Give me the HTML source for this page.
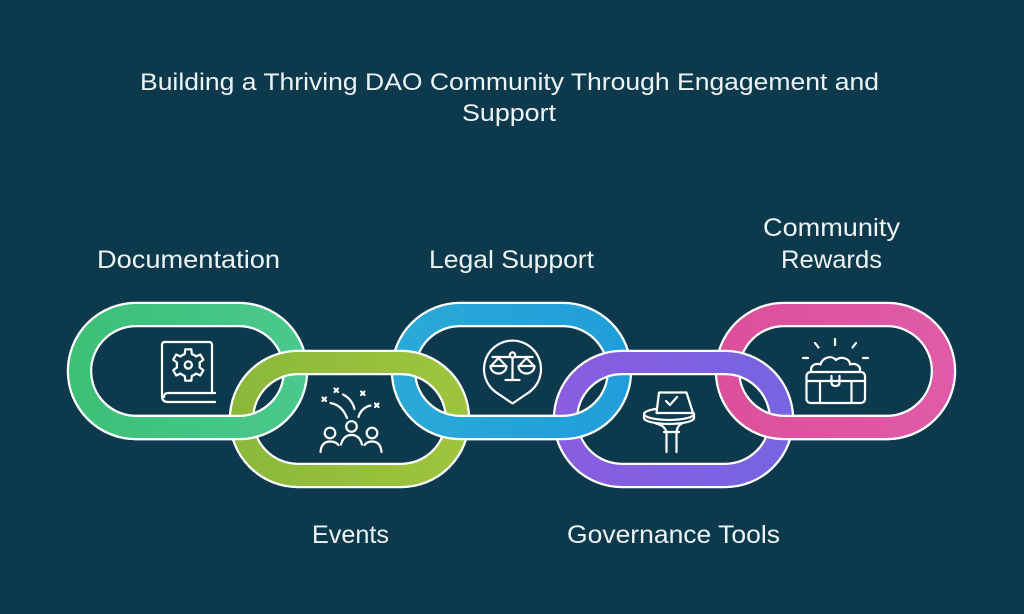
<!DOCTYPE html>
<html><head><meta charset="utf-8"><style>
html,body{margin:0;padding:0;background:#0c3a4c;}
svg{display:block;}
text{font-family:"Liberation Sans",Arial,sans-serif;fill:#eef4f6;}
</style></head><body>
<svg width="1024" height="614" viewBox="0 0 1024 614" xmlns="http://www.w3.org/2000/svg">
<defs>
<linearGradient id="g0" gradientUnits="userSpaceOnUse" x1="67" y1="0" x2="308" y2="0"><stop offset="0" stop-color="#3cbf76"/><stop offset="1" stop-color="#4bc98e"/></linearGradient>
<linearGradient id="g1" gradientUnits="userSpaceOnUse" x1="229" y1="0" x2="470" y2="0"><stop offset="0" stop-color="#8ab83a"/><stop offset="1" stop-color="#9fc53d"/></linearGradient>
<linearGradient id="g2" gradientUnits="userSpaceOnUse" x1="391" y1="0" x2="632" y2="0"><stop offset="0" stop-color="#2ba9d6"/><stop offset="1" stop-color="#1f9edb"/></linearGradient>
<linearGradient id="g3" gradientUnits="userSpaceOnUse" x1="553" y1="0" x2="794" y2="0"><stop offset="0" stop-color="#8a5ce0"/><stop offset="1" stop-color="#7565e0"/></linearGradient>
<linearGradient id="g4" gradientUnits="userSpaceOnUse" x1="715" y1="0" x2="956" y2="0"><stop offset="0" stop-color="#dc4f9b"/><stop offset="1" stop-color="#e05ba9"/></linearGradient>
<clipPath id="low"><rect x="0" y="396" width="1024" height="300"/></clipPath>
</defs>
<rect width="1024" height="614" fill="#0c3a4c"/>

<!-- title -->
<text x="509.5" y="90" font-size="24" text-anchor="middle" textLength="739" lengthAdjust="spacingAndGlyphs">Building a Thriving DAO Community Through Engagement and</text>
<text x="509" y="121" font-size="24" text-anchor="middle" textLength="94" lengthAdjust="spacingAndGlyphs">Support</text>

<!-- labels -->
<text x="97" y="268" font-size="25" textLength="183" lengthAdjust="spacingAndGlyphs">Documentation</text>
<text x="429" y="268" font-size="25" textLength="165" lengthAdjust="spacingAndGlyphs">Legal Support</text>
<text x="763" y="236" font-size="25" textLength="137" lengthAdjust="spacingAndGlyphs">Community</text>
<text x="781" y="268" font-size="25" textLength="101" lengthAdjust="spacingAndGlyphs">Rewards</text>
<text x="312" y="543" font-size="25" textLength="77" lengthAdjust="spacingAndGlyphs">Events</text>
<text x="567" y="543" font-size="25" textLength="213" lengthAdjust="spacingAndGlyphs">Governance Tools</text>

<!-- upper links full -->
<g fill="none">
<rect x="79.5" y="314.5" width="216" height="113" rx="56.5" stroke="#fff" stroke-width="25.5"/>
<rect x="79.5" y="314.5" width="216" height="113" rx="56.5" stroke="url(#g0)" stroke-width="21"/>
<rect x="403.5" y="314.5" width="216" height="113" rx="56.5" stroke="#fff" stroke-width="25.5"/>
<rect x="403.5" y="314.5" width="216" height="113" rx="56.5" stroke="url(#g2)" stroke-width="21"/>
<rect x="727.5" y="314.5" width="216" height="113" rx="56.5" stroke="#fff" stroke-width="25.5"/>
<rect x="727.5" y="314.5" width="216" height="113" rx="56.5" stroke="url(#g4)" stroke-width="21"/>
</g>
<!-- lower links -->
<g fill="none">
<rect x="241.5" y="362.5" width="216" height="113" rx="56.5" stroke="#fff" stroke-width="25.5"/>
<rect x="241.5" y="362.5" width="216" height="113" rx="56.5" stroke="url(#g1)" stroke-width="21"/>
<rect x="565.5" y="362.5" width="216" height="113" rx="56.5" stroke="#fff" stroke-width="25.5"/>
<rect x="565.5" y="362.5" width="216" height="113" rx="56.5" stroke="url(#g3)" stroke-width="21"/>
</g>
<!-- upper links bottom halves over -->
<g fill="none" clip-path="url(#low)">
<rect x="79.5" y="314.5" width="216" height="113" rx="56.5" stroke="#fff" stroke-width="25.5"/>
<rect x="79.5" y="314.5" width="216" height="113" rx="56.5" stroke="url(#g0)" stroke-width="21"/>
<rect x="403.5" y="314.5" width="216" height="113" rx="56.5" stroke="#fff" stroke-width="25.5"/>
<rect x="403.5" y="314.5" width="216" height="113" rx="56.5" stroke="url(#g2)" stroke-width="21"/>
<rect x="727.5" y="314.5" width="216" height="113" rx="56.5" stroke="#fff" stroke-width="25.5"/>
<rect x="727.5" y="314.5" width="216" height="113" rx="56.5" stroke="url(#g4)" stroke-width="21"/>
</g>

<!-- icons -->
<g fill="none" stroke="#fff" stroke-width="2.2" stroke-linecap="round" stroke-linejoin="round">
<!-- documentation book -->
<path d="M162 396 V345 Q162 342 165 342 H209 Q212 342 212 345 V393"/>
<path d="M162 396 Q162 402 168 402 H215"/>
<path d="M215 393 H168 Q164 393 164 397"/>
<g transform="translate(188.3 365)">
<path d="M-5.75 -9.96 L-3.55 -10.94 L-3.05 -15.7 L3.05 -15.7 L3.55 -10.94 L5.75 -9.96"/>
<path transform="rotate(60)" d="M-5.75 -9.96 L-3.55 -10.94 L-3.05 -15.7 L3.05 -15.7 L3.55 -10.94 L5.75 -9.96"/>
<path transform="rotate(120)" d="M-5.75 -9.96 L-3.55 -10.94 L-3.05 -15.7 L3.05 -15.7 L3.55 -10.94 L5.75 -9.96"/>
<path transform="rotate(180)" d="M-5.75 -9.96 L-3.55 -10.94 L-3.05 -15.7 L3.05 -15.7 L3.55 -10.94 L5.75 -9.96"/>
<path transform="rotate(240)" d="M-5.75 -9.96 L-3.55 -10.94 L-3.05 -15.7 L3.05 -15.7 L3.55 -10.94 L5.75 -9.96"/>
<path transform="rotate(300)" d="M-5.75 -9.96 L-3.55 -10.94 L-3.05 -15.7 L3.05 -15.7 L3.55 -10.94 L5.75 -9.96"/>
<circle cx="0" cy="0" r="3.6"/>
</g>

<!-- events -->
<path d="M322.5 397.5 l3.5 3.5 M326 397.5 l-3.5 3.5"/>
<path d="M334.5 388.5 l3.5 3.5 M338 388.5 l-3.5 3.5"/>
<path d="M361 391.5 l3.5 3.5 M364.5 391.5 l-3.5 3.5"/>
<path d="M375 403.5 l3.5 3.5 M378.5 403.5 l-3.5 3.5"/>
<path d="M330.5 403 Q342 405 347 418"/>
<path d="M343 394.5 Q352 399 354.5 409"/>
<path d="M358.5 417 Q361 408 370.5 405.5"/>
<circle cx="330" cy="433" r="5.3"/>
<circle cx="351.5" cy="426.5" r="5.3"/>
<circle cx="372" cy="433" r="5.3"/>
<path d="M320.5 452 Q321.5 441.5 330 441.5 Q336 441.5 338.5 445"/>
<path d="M341 444.5 Q343.5 435 351.5 435 Q359.5 435 362 444.5"/>
<path d="M364.5 445 Q367 441.5 372 441.5 Q380.5 441.5 381.5 452"/>

<!-- legal pin -->
<path d="M497.8 393.5 A28.5 28.5 0 1 1 527.2 393.5 L512.5 403.5 Z"/>
<line x1="492.5" y1="357" x2="532.5" y2="357"/>
<circle cx="512.5" cy="355" r="2.6" fill="#0c3a4c"/>
<line x1="512.5" y1="358" x2="512.5" y2="380"/>
<line x1="505.5" y1="380" x2="519.5" y2="380"/>
<path d="M498.5 358 L491 366 M498.5 358 L506 366 M490.5 366 H506.5 A8 7.5 0 0 1 490.5 366 Z"/>
<path d="M526.5 358 L519 366 M526.5 358 L534 366 M518.5 366 H534.5 A8 7.5 0 0 1 518.5 366 Z"/>

<!-- governance -->
<ellipse cx="669" cy="414" rx="25" ry="6"/>
<path d="M644 414 V418 A25 6 0 0 0 694 418 V414"/>
<path d="M656.5 413 L659 392.5 H686.5 L693 413 Z" fill="#0c3a4c"/>
<path d="M666 401 L670 405 L677 397"/>
<path d="M656 423.5 Q666.5 426 666.5 434 V452"/>
<path d="M682 423.5 Q676.5 426 676.5 434 V452"/>
<line x1="664" y1="432" x2="679" y2="432"/>

<!-- rewards chest -->
<line x1="835" y1="339" x2="835" y2="345"/>
<line x1="815" y1="343" x2="818.5" y2="347.5"/>
<line x1="856" y1="343" x2="852.5" y2="347.5"/>
<line x1="803" y1="358" x2="808" y2="358"/>
<line x1="863" y1="358" x2="868" y2="358"/>
<path d="M811.5 372 C809.5 366 815 362.5 820.5 364.5 C822.5 357 832 355 836 360 C840.5 356 850 358 850 364.5 C856 362.5 862 366.5 859.5 372"/>
<rect x="806.5" y="372" width="58.5" height="31" rx="4"/>
<line x1="806.5" y1="381" x2="865" y2="381"/>
<line x1="820" y1="381" x2="820" y2="403"/>
<line x1="851.5" y1="381" x2="851.5" y2="403"/>
<path d="M831.5 376 V382.5 Q831.5 386 835.5 386 Q839.5 386 839.5 382.5 V376"/>
</g>
</svg>
</body></html>
